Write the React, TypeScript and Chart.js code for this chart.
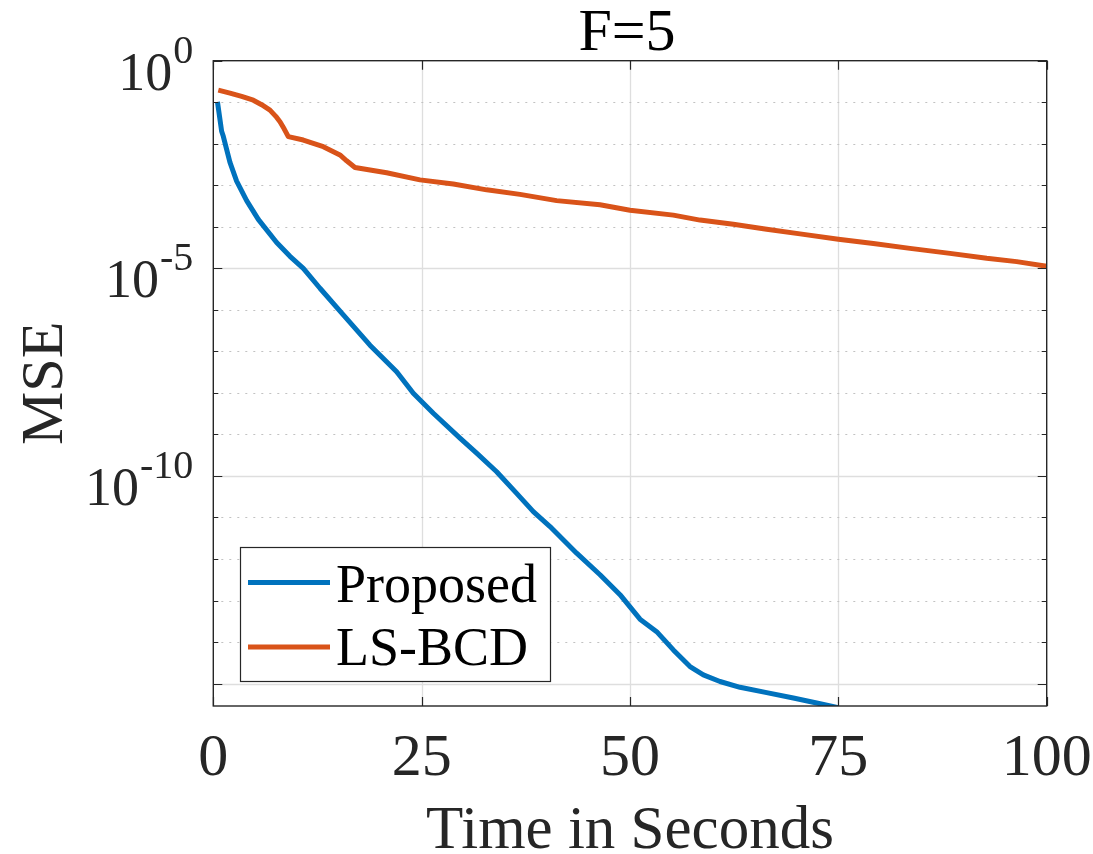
import React, { useEffect, useRef } from 'react';
import { Chart, registerables } from 'chart.js';

Chart.register(...registerables);

// ---------- data ----------
const chartTitle = 'F=5';
const xAxisTitle = 'Time in Seconds';
const yAxisTitle = 'MSE';
const seriesNames = ['Proposed', 'LS-BCD'];
const seriesColors = ['#0072BD', '#D95319'];

const xTickValues = [0, 25, 50, 75, 100];
const yDecadeExponents = [0, -1, -2, -3, -4, -5, -6, -7, -8, -9, -10, -11, -12, -13, -14, -15];
const yLabelExponents = [0, -5, -10];

const proposedTime = [
  0.5, 1.0, 1.2, 2.0, 2.8, 4.0, 5.4, 7.6, 9.2, 10.8, 12.8, 15.6, 18.8, 22.0, 24.0, 26.4,
  29.6, 31.6, 34.0, 36.4, 38.4, 40.4, 43.6, 46.4, 48.8, 51.2, 53.2, 55.2, 57.2, 58.8,
  60.8, 63.2, 66.4, 69.6, 72.4, 75.0,
];
const proposedMSE = [
  1.02e-1, 2.0e-2, 1.51e-2, 3.55e-3, 1.26e-3, 4.27e-4, 1.51e-4, 4.17e-5, 1.95e-5, 1.0e-5,
  3.31e-6, 7.59e-7, 1.41e-7, 3.24e-8, 9.77e-9, 3.24e-9, 8.13e-10, 3.55e-10, 1.26e-10,
  3.8e-11, 1.38e-11, 6.03e-12, 1.38e-12, 4.17e-13, 1.38e-13, 3.55e-14, 1.78e-14, 6.46e-15,
  2.57e-15, 1.62e-15, 1.12e-15, 8.13e-16, 6.03e-16, 4.47e-16, 3.39e-16, 2.63e-16,
];

const lsbcdTime = [
  0.6, 2.0, 3.4, 4.8, 5.8, 6.8, 7.5, 8.0, 8.5, 9.0, 10.8, 13.2, 15.2, 16.0, 17.0, 20.8,
  24.8, 28.8, 32.8, 36.8, 41.2, 46.4, 50.0, 55.2, 58.4, 62.4, 66.4, 70.4, 75.0, 79.2, 83.6,
  88.4, 92.8, 96.4, 100.0,
];
const lsbcdMSE = [
  1.95e-1, 1.66e-1, 1.38e-1, 1.12e-1, 8.71e-2, 6.46e-2, 4.57e-2, 3.39e-2, 2.29e-2, 1.48e-2,
  1.23e-2, 8.51e-3, 5.37e-3, 3.89e-3, 2.69e-3, 2.0e-3, 1.35e-3, 1.07e-3, 7.76e-4, 6.03e-4,
  4.27e-4, 3.39e-4, 2.51e-4, 1.91e-4, 1.45e-4, 1.15e-4, 8.71e-5, 6.76e-5, 5.01e-5, 3.98e-5,
  3.02e-5, 2.29e-5, 1.74e-5, 1.45e-5, 1.12e-5,
];

const xMin = 0;
const xMax = 100;
const yMin = 2.88e-16;
const yMax = 1;

// ---------- styling ----------
const FONT = '"Liberation Serif", "Times New Roman", Times, serif';
const AXIS_COLOR = '#262626';

const matlabPlugin = {
  id: 'matlabLook',
  beforeDatasetsDraw(chart: any) {
    const { ctx, chartArea: a, scales } = chart;
    const xs = scales.x;
    const ys = scales.y;
    ctx.save();
    ctx.strokeStyle = '#dedede';
    ctx.lineWidth = 1.3;
    ctx.setLineDash([]);
    for (const v of xTickValues) {
      if (v === xMin || v === xMax) continue;
      const px = Math.round(xs.getPixelForValue(v)) + 0.5;
      ctx.beginPath();
      ctx.moveTo(px, a.top);
      ctx.lineTo(px, a.bottom);
      ctx.stroke();
    }
    for (const t of ys.ticks) {
      const e = Math.round(Math.log10(t.value));
      if (t.value >= yMax) continue;
      const py = Math.round(ys.getPixelForValue(t.value)) + 0.5;
      if (e % 5 === 0) {
        ctx.strokeStyle = '#dedede';
        ctx.lineWidth = 1.3;
        ctx.setLineDash([]);
      } else {
        ctx.strokeStyle = '#c2c2c2';
        ctx.lineWidth = 1.2;
        ctx.setLineDash([2, 6]);
      }
      ctx.beginPath();
      ctx.moveTo(a.left, py);
      ctx.lineTo(a.right, py);
      ctx.stroke();
    }
    ctx.restore();
  },
  afterDatasetsDraw(chart: any) {
    const { ctx, chartArea: a, scales } = chart;
    const xs = scales.x;
    const ys = scales.y;
    ctx.save();
    ctx.setLineDash([]);

    ctx.strokeStyle = AXIS_COLOR;
    ctx.lineWidth = 1.4;
    ctx.strokeRect(a.left, a.top, a.right - a.left, a.bottom - a.top);

    ctx.lineWidth = 1.2;
    for (const v of xTickValues) {
      const px = Math.round(xs.getPixelForValue(v)) + 0.5;
      ctx.beginPath();
      ctx.moveTo(px, a.bottom);
      ctx.lineTo(px, a.bottom - 9);
      ctx.moveTo(px, a.top);
      ctx.lineTo(px, a.top + 9);
      ctx.stroke();
    }
    for (const t of ys.ticks) {
      const e = Math.round(Math.log10(t.value));
      const len = e % 5 === 0 ? 9 : 5;
      const py = Math.round(ys.getPixelForValue(t.value)) + 0.5;
      ctx.beginPath();
      ctx.moveTo(a.left, py);
      ctx.lineTo(a.left + len, py);
      ctx.moveTo(a.right, py);
      ctx.lineTo(a.right - len, py);
      ctx.stroke();
    }

    ctx.fillStyle = AXIS_COLOR;
    ctx.font = `60px ${FONT}`;
    ctx.textAlign = 'center';
    ctx.textBaseline = 'alphabetic';
    for (const v of xTickValues) {
      const px = xs.getPixelForValue(v);
      ctx.fillText(String(v), px, a.bottom + 69);
    }

    for (const e of yLabelExponents) {
      const py = ys.getPixelForValue(Math.pow(10, e));
      const right = a.left - 20;
      ctx.textAlign = 'right';
      ctx.font = `40px ${FONT}`;
      const expStr = String(e);
      const expW = ctx.measureText(expStr).width;
      ctx.fillText(expStr, right, py + 2);
      ctx.font = `54px ${FONT}`;
      ctx.fillText('10', right - expW - 1, py + 29);
    }

    ctx.font = `61px ${FONT}`;
    ctx.textAlign = 'center';
    ctx.fillText(xAxisTitle, (a.left + a.right) / 2, 848);

    ctx.save();
    ctx.translate(62, (a.top + a.bottom) / 2);
    ctx.rotate(-Math.PI / 2);
    ctx.font = `60px ${FONT}`;
    ctx.textAlign = 'center';
    ctx.fillText(yAxisTitle, 0, 0);
    ctx.restore();

    ctx.fillStyle = '#000000';
    ctx.font = `60px ${FONT}`;
    ctx.textAlign = 'center';
    ctx.fillText(chartTitle, (a.left + a.right) / 2 - 3, 50);

    const lx = 240.5, ly = 547.5, lw = 310, lh = 134;
    ctx.fillStyle = '#ffffff';
    ctx.fillRect(lx, ly, lw, lh);
    ctx.strokeStyle = AXIS_COLOR;
    ctx.lineWidth = 1.2;
    ctx.strokeRect(lx, ly, lw, lh);
    const rows = [582.5, 647];
    const baselines = [601.5, 665];
    chart.data.datasets.forEach((ds: any, i: number) => {
      ctx.strokeStyle = ds.borderColor;
      ctx.lineWidth = 5;
      ctx.beginPath();
      ctx.moveTo(248, rows[i]);
      ctx.lineTo(330, rows[i]);
      ctx.stroke();
      ctx.fillStyle = '#000000';
      ctx.font = `54px ${FONT}`;
      ctx.textAlign = 'left';
      ctx.fillText(ds.label, 336, baselines[i]);
    });

    ctx.restore();
  },
};

export default function App() {
  const canvasRef = useRef<HTMLCanvasElement | null>(null);

  useEffect(() => {
    const canvas = canvasRef.current;
    if (!canvas) return;
    const proposedPoints = proposedTime.map((t, i) => ({ x: t, y: proposedMSE[i] }));
    const lsbcdPoints = lsbcdTime.map((t, i) => ({ x: t, y: lsbcdMSE[i] }));

    const chart = new Chart(canvas, {
      type: 'line',
      data: {
        datasets: [
          {
            label: seriesNames[0],
            data: proposedPoints,
            borderColor: seriesColors[0],
            backgroundColor: seriesColors[0],
            borderWidth: 5,
            pointRadius: 0,
            tension: 0,
            borderJoinStyle: 'round',
            fill: false,
          },
          {
            label: seriesNames[1],
            data: lsbcdPoints,
            borderColor: seriesColors[1],
            backgroundColor: seriesColors[1],
            borderWidth: 5,
            pointRadius: 0,
            tension: 0,
            borderJoinStyle: 'round',
            fill: false,
          },
        ],
      },
      options: {
        responsive: false,
        animation: false,
        devicePixelRatio: 1,
        layout: { padding: { left: 0, top: 60.7, right: 46.3, bottom: 0 } },
        plugins: {
          legend: { display: false },
          title: { display: false },
          tooltip: { enabled: false },
        },
        scales: {
          x: {
            type: 'linear',
            min: xMin,
            max: xMax,
            grid: { display: false },
            border: { display: false },
            ticks: { display: false },
            afterFit: (s: any) => {
              s.height = 148;
            },
          },
          y: {
            type: 'logarithmic',
            min: yMin,
            max: yMax,
            grid: { display: false },
            border: { display: false },
            ticks: { display: false },
            afterBuildTicks: (s: any) => {
              s.ticks = yDecadeExponents.map((e) => ({ value: Math.pow(10, e) }));
            },
            afterFit: (s: any) => {
              s.width = 213.3;
            },
          },
        },
      },
      plugins: [matlabPlugin],
    } as any);

    return () => chart.destroy();
  }, []);

  return (
    <div style={{ position: 'absolute', left: 0, top: 0, width: 1093, height: 854, background: '#fff' }}>
      <canvas ref={canvasRef} width={1093} height={854} style={{ display: 'block' }} />
    </div>
  );
}
